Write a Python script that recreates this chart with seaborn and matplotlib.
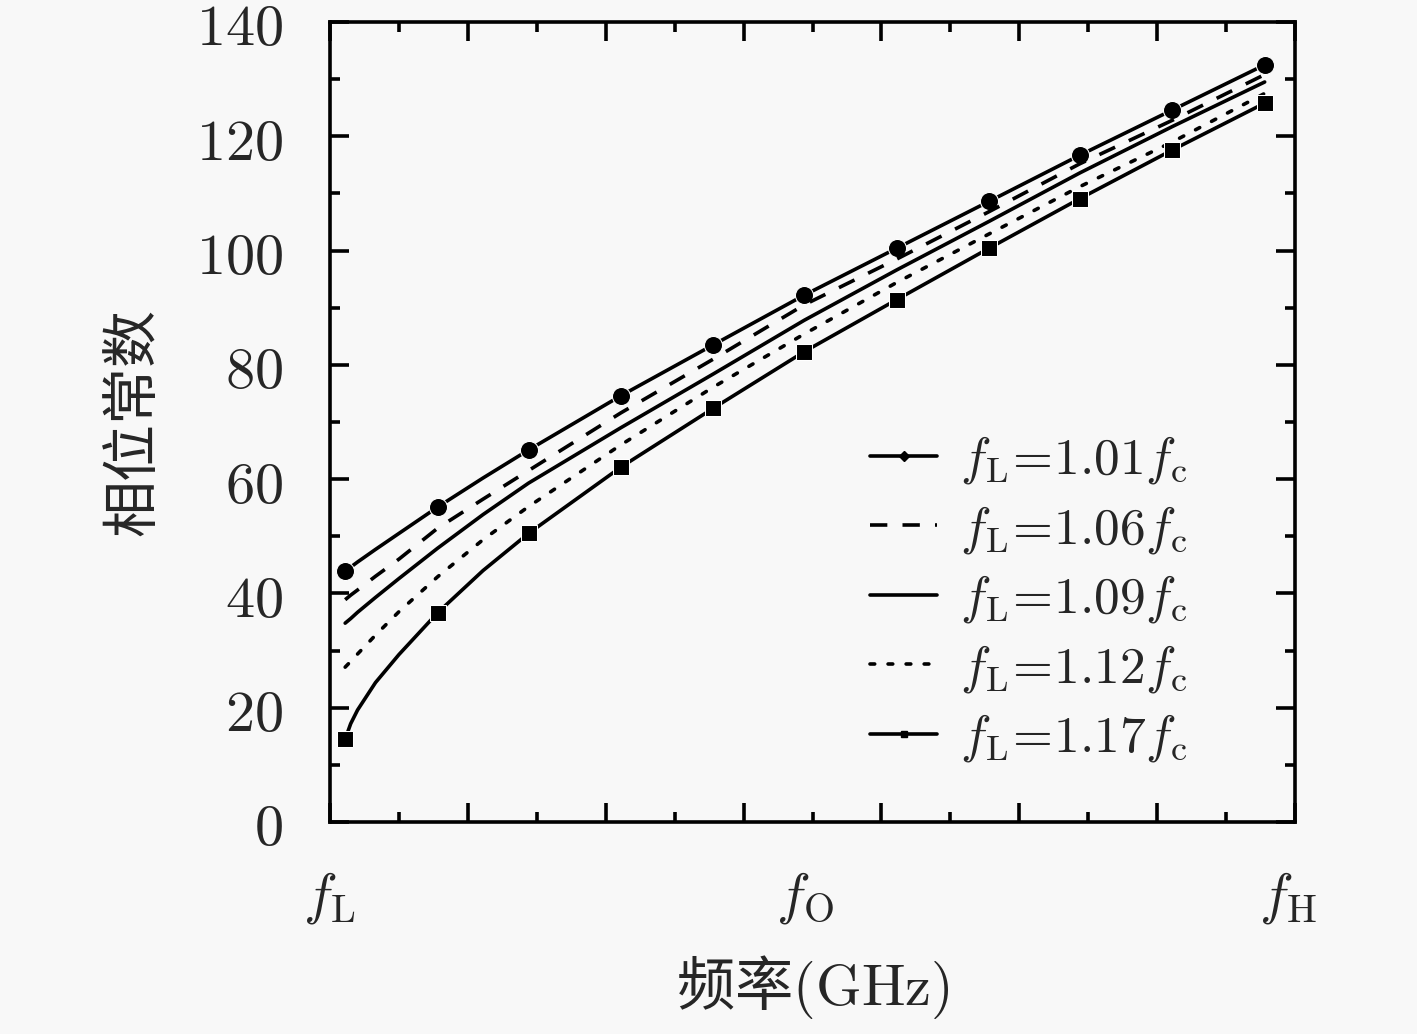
import matplotlib
matplotlib.use("Agg")
import matplotlib.pyplot as plt
import seaborn as sns
from matplotlib.lines import Line2D
from matplotlib.ticker import MultipleLocator

# normalised frequency positions (fL ... fH)
x_pos = [0.11, 0.15, 0.2, 0.33, 0.5, 0.78, 1.11, 1.44, 2.11, 2.78, 3.44, 4.11, 4.78, 5.44, 6.11, 6.78]
marker_idx = [0, 5, 7, 8, 9, 10, 11, 12, 13, 14, 15]

beta_101 = [43.9, 44.6, 45.5, 47.7, 50.5, 55.1, 60.2, 65.1, 74.6, 83.5, 92.2, 100.4, 108.6, 116.7, 124.6, 132.5]
beta_106 = [38.9, 39.7, 40.6, 43.0, 46.0, 51.4, 56.5, 61.5, 71.6, 81.0, 90.5, 98.5, 106.8, 115.2, 122.8, 130.8]
beta_109 = [34.8, 35.6, 36.7, 39.3, 42.6, 47.9, 53.8, 59.3, 69.0, 78.4, 87.8, 96.6, 105.1, 113.6, 121.7, 129.5]
beta_112 = [27.1, 28.1, 29.4, 32.7, 36.8, 42.9, 49.4, 55.2, 66.0, 76.1, 85.4, 94.4, 102.9, 111.2, 119.0, 127.5]
beta_117 = [14.5, 17.2, 19.6, 24.4, 29.3, 36.6, 44.0, 50.5, 62.1, 72.4, 82.3, 91.4, 100.4, 109.1, 117.6, 125.8]

labels = [r'$f_{\rm L}\!=\!1.01f_{\rm c}$', r'$f_{\rm L}\!=\!1.06f_{\rm c}$', r'$f_{\rm L}\!=\!1.09f_{\rm c}$',
          r'$f_{\rm L}\!=\!1.12f_{\rm c}$', r'$f_{\rm L}\!=\!1.17f_{\rm c}$']

x_tick_pos = [0, 3.45, 6.95]
x_tick_labels = [r'$f_{\rm L}$', r'$f_{\rm O}$', r'$f_{\rm H}$']
y_ticks = [0, 20, 40, 60, 80, 100, 120, 140]

BG = '#f8f8f8'
LW = 2.6

sns.set_style('ticks')
plt.rcParams['font.family'] = ['Noto Sans CJK SC', 'DejaVu Sans']
plt.rcParams['mathtext.fontset'] = 'cm'

fig = plt.figure(figsize=(14.17, 10.34), dpi=100, facecolor=BG)
ax = fig.add_axes([330 / 1417, 1 - 822 / 1034, 965 / 1417, 800 / 1034])
ax.set_facecolor(BG)

dash = (0, (4.8, 4.2))
dot = (0, (1.3, 3.7))
styles = [
    (beta_101, dict(linestyle='-', marker='o', markersize=13, markevery=marker_idx)),
    (beta_106, dict(linestyle=dash)),
    (beta_109, dict(linestyle='-')),
    (beta_112, dict(linestyle=dot, dash_capstyle='round')),
    (beta_117, dict(linestyle='-', marker='s', markersize=12, markevery=marker_idx)),
]
for vals, kw in styles:
    sns.lineplot(x=x_pos, y=vals, ax=ax, color='black', lw=LW, **kw)

ax.set_xlim(0, 7)
ax.set_ylim(0, 140)
ax.xaxis.set_major_locator(MultipleLocator(1))
ax.xaxis.set_minor_locator(MultipleLocator(0.5))
ax.yaxis.set_minor_locator(MultipleLocator(10))
ax.set_yticks(y_ticks, labels=[f'${t}$' for t in y_ticks])
ax.set_xticklabels([])
ax.tick_params(which='both', direction='in', top=True, right=True, width=LW, color='black')
ax.tick_params(which='major', length=14)
ax.tick_params(which='minor', length=7)
ax.tick_params(axis='y', labelsize=42, pad=34)
for sp in ax.spines.values():
    sp.set_linewidth(LW)
    sp.set_color('black')

sec = ax.secondary_xaxis('bottom')
sec.set_xticks(x_tick_pos, labels=x_tick_labels)
sec.tick_params(length=0, labelsize=41, pad=33)
sec.spines['bottom'].set_visible(False)
sec.set_xlabel('频率$\\mathrm{(GHz)}$', fontsize=42, labelpad=20)

ax.set_xlabel('')
ax.set_ylabel('相位常数', fontsize=41, labelpad=24)

handles = [
    Line2D([], [], color='black', lw=LW, marker='D', markersize=5),
    Line2D([], [], color='black', lw=LW, linestyle=dash),
    Line2D([], [], color='black', lw=LW),
    Line2D([], [], color='black', lw=LW, linestyle=dot, dash_capstyle='round'),
    Line2D([], [], color='black', lw=LW, marker='s', markersize=5),
]
ax.legend(handles, labels, loc='upper left', bbox_to_anchor=(0.56, 0.487), frameon=False,
          fontsize=37, handlelength=1.3, handletextpad=0.45, labelspacing=0.3,
          borderaxespad=0, borderpad=0)

fig.savefig('out.png', dpi=100, facecolor=BG)
